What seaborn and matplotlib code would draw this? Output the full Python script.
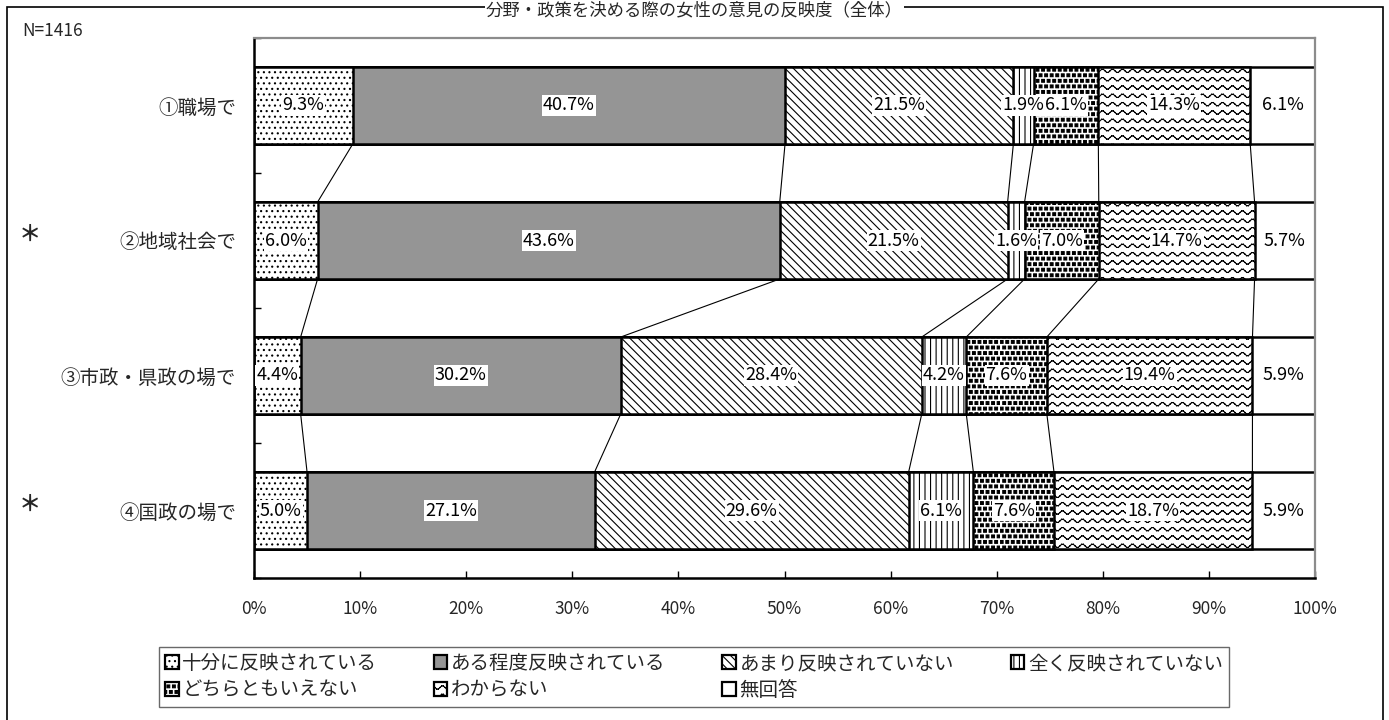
import warnings
import numpy as np
import pandas as pd
import matplotlib
matplotlib.use('Agg')
import matplotlib.pyplot as plt
import matplotlib.hatch as mhatch
from matplotlib.patches import Patch, Rectangle
import seaborn as sns

warnings.filterwarnings('ignore')

# data
categories = ['①職場で', '②地域社会で', '③市政・県政の場で', '④国政の場で']
starred = [False, True, False, True]
answers = ['十分に反映されている', 'ある程度反映されている', 'あまり反映されていない',
           '全く反映されていない', 'どちらともいえない', 'わからない', '無回答']
shokuba = [9.3, 40.7, 21.5, 1.9, 6.1, 14.3, 6.1]
chiiki = [6.0, 43.6, 21.5, 1.6, 7.0, 14.7, 5.7]
shisei = [4.4, 30.2, 28.4, 4.2, 7.6, 19.4, 5.9]
kokusei = [5.0, 27.1, 29.6, 6.1, 7.6, 18.7, 5.9]
n_total = 1416
title = '分野・政策を決める際の女性の意見の反映度（全体）'


# extra hatch patterns: wavy lines ('~') and big square dots ('#')
class WaveHatch(mhatch.HatchPatternBase):
    def __init__(self, hatch, density):
        self.num_lines = hatch.count('~') * density
        self.segs = 60
        self.num_vertices = self.num_lines * self.segs * 2

    def set_vertices_and_codes(self, vertices, codes):
        x = np.linspace(0, 1, self.segs + 1)
        idx = 0
        for k in range(self.num_lines):
            y = (k + 0.5) / self.num_lines + 0.018 * np.sin(2 * np.pi * 10 * x)
            for s in range(self.segs):
                vertices[idx] = (x[s], y[s])
                vertices[idx + 1] = (x[s + 1], y[s + 1])
                codes[idx] = 1  # MOVETO
                codes[idx + 1] = 2  # LINETO
                idx += 2


class SquareDots(mhatch.HatchPatternBase):
    def __init__(self, hatch, density):
        self.n = hatch.count('#') * density
        self.num_vertices = self.n * self.n * 5

    def set_vertices_and_codes(self, vertices, codes):
        n = self.n
        s = 0.028
        idx = 0
        for i in range(n):
            off = 0.05 if i % 2 == 0 else 0.5
            y0 = (i + 0.2) / n
            for j in range(n):
                x0 = (j + off) / n
                vertices[idx:idx + 5] = [(x0, y0), (x0 + s, y0), (x0 + s, y0 + s),
                                         (x0, y0 + s), (x0, y0)]
                codes[idx:idx + 5] = [1, 2, 2, 2, 79]
                idx += 5


mhatch._hatch_types.append(WaveHatch)
mhatch._hatch_types.append(SquareDots)

sns.set_theme(style='white')
plt.rcParams['font.family'] = ['Noto Sans CJK JP', 'DejaVu Sans']
plt.rcParams['hatch.linewidth'] = 0.8

faces = ['white', '#959595', 'white', 'white', 'white', 'white', 'white']
hatches = ['...', None, '\\\\\\\\', '|||', '###', '~~', None]

values = np.array([shokuba, chiiki, shisei, kokusei])
norm = values / values.sum(axis=1, keepdims=True) * 100
cum = np.cumsum(norm, axis=1)
starts = cum - norm

W, H = 1389, 720
fig = plt.figure(figsize=(W / 100, H / 100), dpi=100)
ax = fig.add_axes([254 / W, 1 - 578 / H, (1315 - 254) / W, (578 - 38) / H])

bar_h = 0.57
for k in reversed(range(len(answers))):
    df = pd.DataFrame({'cat': categories, 'cum': cum[:, k]})
    sns.barplot(data=df, x='cum', y='cat', orient='h', color=faces[k],
                saturation=1, edgecolor='black', linewidth=1.8,
                width=bar_h, ax=ax)
    for p in ax.containers[-1]:
        p.set_facecolor(faces[k])
        if hatches[k]:
            p.set_hatch(hatches[k])

# connector lines between bars
for i in range(len(categories) - 1):
    for k in range(len(answers) - 1):
        ax.plot([cum[i, k], cum[i + 1, k]], [i + bar_h / 2, i + 1 - bar_h / 2],
                color='black', lw=0.8, zorder=1)

# segment labels
for i in range(len(categories)):
    for k in range(len(answers)):
        ax.text(starts[i, k] + norm[i, k] / 2, i, f'{values[i, k]:.1f}%',
                ha='center', va='center', fontsize=13, color='black',
                bbox=dict(facecolor='white', edgecolor='none', pad=0.8))

ax.set_xlim(0, 100)
ax.set_ylim(len(categories) - 0.5, -0.5)
ax.set_xlabel('')
ax.set_ylabel('')
ax.set_xticks(np.arange(0, 101, 10))
ax.set_xticklabels([f'{t}%' for t in range(0, 101, 10)], fontsize=12.5)
ax.tick_params(axis='x', direction='in', length=5, width=1, color='black', pad=16,
               bottom=True)
ax.set_yticks(range(len(categories)))
ax.set_yticklabels(categories, fontsize=14)
ax.tick_params(axis='y', which='major', length=0, pad=13)
ax.set_yticks(np.arange(-0.5, len(categories), 1), minor=True)
ax.tick_params(axis='y', which='minor', direction='in', length=5, width=1,
               color='black', left=True)
for side in ['left', 'bottom']:
    ax.spines[side].set_color('black')
    ax.spines[side].set_linewidth(1.8)
for side in ['top', 'right']:
    ax.spines[side].set_color('#8c8c8c')
    ax.spines[side].set_linewidth(1.6)

# asterisks for marked rows
for i, s in enumerate(starred):
    if s:
        y_fig = ax.transData.transform((0, i))[1]
        fig.text(30 / W, y_fig / H + 0.008, '＊', fontsize=16, fontweight='bold',
                 ha='center', va='center')

fig.text(22 / W, 1 - 31 / H, f'N={n_total}', fontsize=12.5, ha='left', va='center')

# outer frame (bottom edge lies below the picture)
fig.add_artist(Rectangle((7 / W, -0.05), (1383 - 7) / W, 1.05 - 7 / H,
                         transform=fig.transFigure, fill=False,
                         edgecolor='black', lw=1.2))
fig.text(0.5, 1 - 1.5 / H, title, fontsize=12.5, ha='center', va='top',
         bbox=dict(facecolor='white', edgecolor='none', pad=0.5))

handles = [Patch(facecolor=faces[k], edgecolor='black', linewidth=1.6,
                 hatch=hatches[k], label=answers[k]) for k in range(len(answers))]
order = [0, 4, 1, 5, 2, 6, 3]
leg = fig.legend([handles[k] for k in order], [answers[k] for k in order],
                 ncol=4, loc='center', bbox_to_anchor=(694 / W, 1 - 677 / H),
                 fontsize=14, frameon=True, fancybox=False, edgecolor='#444444',
                 handlelength=0.7, handleheight=0.7, handletextpad=0.2,
                 columnspacing=2.9, labelspacing=0.3, borderpad=0.3,
                 borderaxespad=0)
leg.get_frame().set_linewidth(1.0)

fig.savefig('out.png', dpi=100)
